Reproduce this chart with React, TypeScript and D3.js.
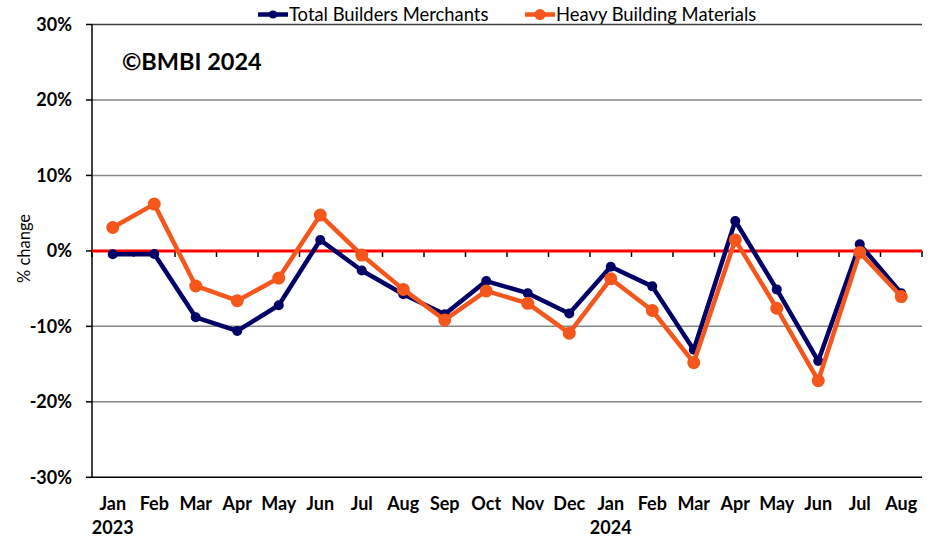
import React, { useRef, useEffect } from "react";
import * as d3 from "d3";

const months = ["Jan", "Feb", "Mar", "Apr", "May", "Jun", "Jul", "Aug", "Sep", "Oct", "Nov", "Dec",
  "Jan", "Feb", "Mar", "Apr", "May", "Jun", "Jul", "Aug"];
const years = ["2023", "", "", "", "", "", "", "", "", "", "", "", "2024", "", "", "", "", "", "", ""];
const totalBuilders = [-0.45, -0.4, -8.8, -10.6, -7.2, 1.45, -2.6, -5.75, -8.4, -4.0, -5.6, -8.3,
  -2.1, -4.7, -13.1, 3.96, -5.1, -14.6, 0.87, -5.6];
const heavyMaterials = [3.1, 6.2, -4.65, -6.6, -3.6, 4.75, -0.55, -5.1, -9.15, -5.3, -6.95, -10.9,
  -3.7, -7.9, -14.8, 1.45, -7.6, -17.2, -0.2, -6.05];
const yTicks = [-30, -20, -10, 0, 10, 20, 30];

const W = 934;
const H = 537;
const font = "Lato, 'Open Sans', sans-serif";

const App: React.FC = () => {
  const svgRef = useRef<SVGSVGElement>(null);

  useEffect(() => {
    if (!svgRef.current) return;
    const svg = d3.select(svgRef.current);
    svg.selectAll("*").remove();

    const left = 92, right = 922, top = 24.5, bottom = 477.3;

    const x = d3.scaleBand<number>().domain(d3.range(months.length)).range([left, right]);
    const y = d3.scaleLinear().domain([-30, 30]).range([bottom, top]);
    const cx = (i: number) => x(i)! + x.bandwidth() / 2;

    // gridlines
    svg.append("g")
      .selectAll("line")
      .data(yTicks.filter((t) => t !== 0 && t !== -30))
      .join("line")
      .attr("x1", left).attr("x2", right)
      .attr("y1", (d) => y(d)).attr("y2", (d) => y(d))
      .attr("stroke", (d) => (d === 30 ? "#404040" : "#868686"))
      .attr("stroke-width", 1.5);

    // bottom line
    svg.append("line")
      .attr("x1", left).attr("x2", right)
      .attr("y1", y(-30)).attr("y2", y(-30))
      .attr("stroke", "#000").attr("stroke-width", 1.5);

    // y axis
    svg.append("line")
      .attr("x1", left).attr("x2", left)
      .attr("y1", y(30)).attr("y2", y(-30))
      .attr("stroke", "#000").attr("stroke-width", 1.5);

    svg.append("g")
      .selectAll("line")
      .data(yTicks)
      .join("line")
      .attr("x1", left - 6).attr("x2", left)
      .attr("y1", (d) => y(d)).attr("y2", (d) => y(d))
      .attr("stroke", "#000").attr("stroke-width", 1.5);

    svg.append("g")
      .selectAll("text")
      .data(yTicks)
      .join("text")
      .attr("x", 72)
      .attr("y", (d) => y(d))
      .attr("dy", "0.35em")
      .attr("text-anchor", "end")
      .style("font-family", font)
      .style("font-weight", "700")
      .style("font-size", "18px")
      .text((d) => `${d}%`);

    // x ticks on zero line
    const bounds = d3.range(months.length + 1).map((i) => left + i * x.step());
    svg.append("g")
      .selectAll("line")
      .data(bounds)
      .join("line")
      .attr("x1", (d) => d).attr("x2", (d) => d)
      .attr("y1", y(0)).attr("y2", y(0) + 6)
      .attr("stroke", "#000").attr("stroke-width", 1.5);

    // zero line
    svg.append("line")
      .attr("x1", left).attr("x2", right)
      .attr("y1", y(0)).attr("y2", y(0))
      .attr("stroke", "#FF0000").attr("stroke-width", 3);

    // x labels
    svg.append("g")
      .selectAll("text")
      .data(months)
      .join("text")
      .attr("x", (_, i) => cx(i))
      .attr("y", 510)
      .attr("text-anchor", "middle")
      .style("font-family", font)
      .style("font-weight", "700")
      .style("font-size", "18px")
      .text((d) => d);

    svg.append("g")
      .selectAll("text")
      .data(years)
      .join("text")
      .attr("x", (_, i) => cx(i))
      .attr("y", 534)
      .attr("text-anchor", "middle")
      .style("font-family", font)
      .style("font-weight", "700")
      .style("font-size", "18px")
      .text((d) => d);

    // y title
    svg.append("text")
      .attr("transform", `translate(30, 248.5) rotate(-90)`)
      .attr("text-anchor", "middle")
      .style("font-family", font)
      .style("font-size", "16.5px")
      .text("% change");

    // watermark
    svg.append("text")
      .attr("x", 122)
      .attr("y", 70)
      .style("font-family", font)
      .style("font-weight", "700")
      .style("font-size", "23.5px")
      .text("©BMBI 2024");

    const series = [
      { name: "Total Builders Merchants", values: totalBuilders, color: "#000066", r: 5 },
      { name: "Heavy Building Materials", values: heavyMaterials, color: "#F4561B", r: 6.5 },
    ];

    const line = d3.line<number>()
      .x((_, i) => cx(i))
      .y((d) => y(d));

    series.forEach((s) => {
      svg.append("path")
        .datum(s.values)
        .attr("d", line)
        .attr("fill", "none")
        .attr("stroke", s.color)
        .attr("stroke-width", 4.5)
        .attr("stroke-linejoin", "round");
      svg.append("g")
        .selectAll("circle")
        .data(s.values)
        .join("circle")
        .attr("cx", (_, i) => cx(i))
        .attr("cy", (d) => y(d))
        .attr("r", s.r)
        .attr("fill", s.color);
    });

    // legend
    const legendX = [258, 525];
    series.forEach((s, i) => {
      const g = svg.append("g").attr("transform", `translate(${legendX[i]}, 14.5)`);
      g.append("line")
        .attr("x1", 0).attr("x2", 30)
        .attr("y1", 0).attr("y2", 0)
        .attr("stroke", s.color).attr("stroke-width", 4.5);
      g.append("circle").attr("cx", 15).attr("cy", 0).attr("r", s.r - 1).attr("fill", s.color);
      g.append("text")
        .attr("x", 31)
        .attr("y", 0)
        .attr("dy", "0.35em")
        .style("font-family", font)
        .style("font-size", "18.4px")
        .text(s.name);
    });
  }, []);

  return (
    <svg ref={svgRef} width={W} height={H}
      style={{ position: "absolute", left: 0, top: 0, background: "#fff" }} />
  );
};

export default App;
